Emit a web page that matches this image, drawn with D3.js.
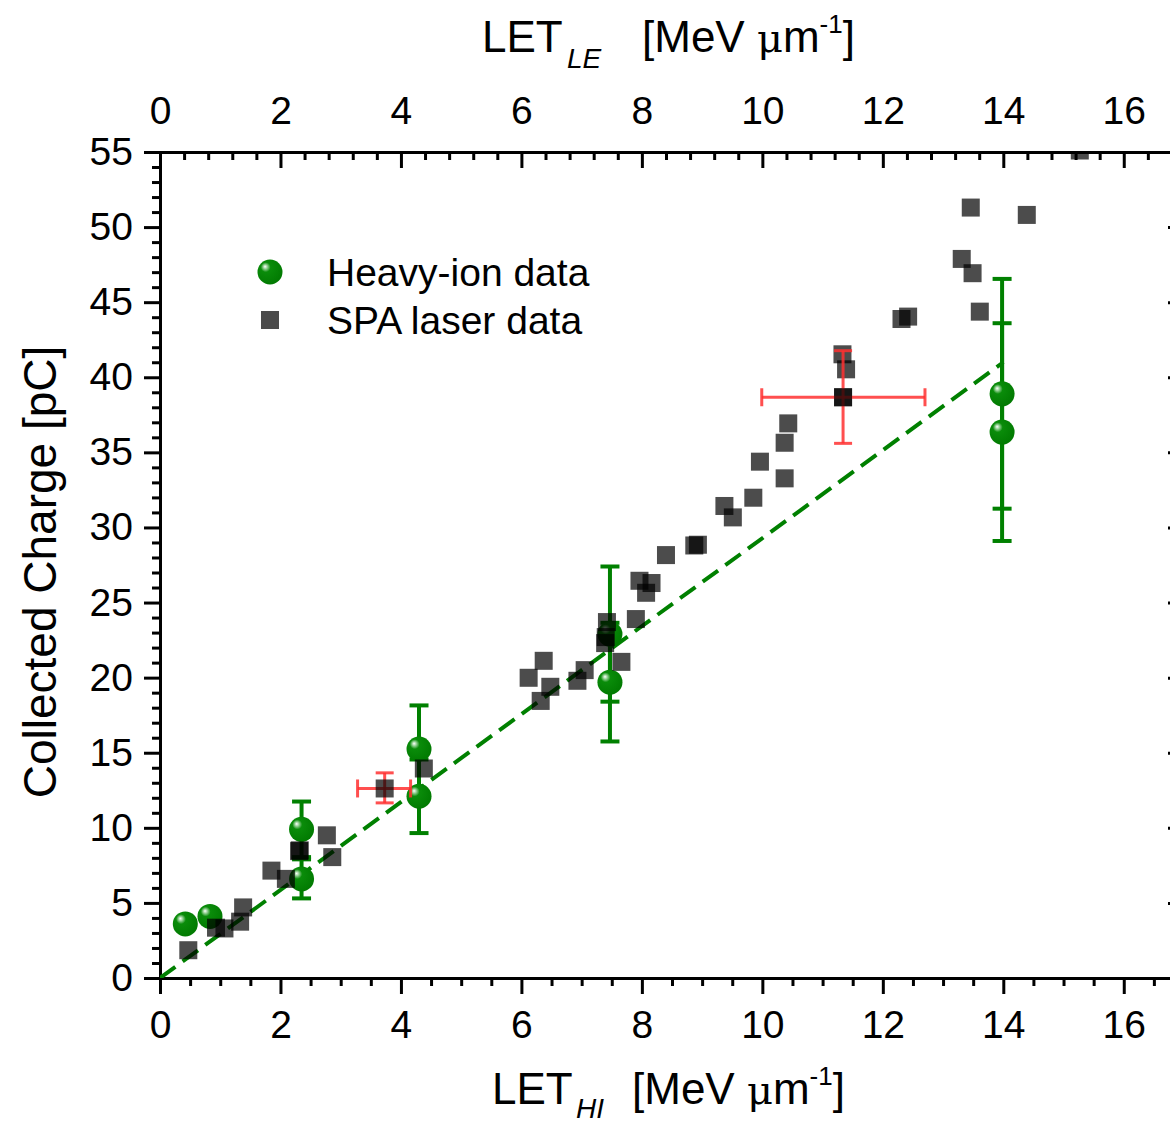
<!DOCTYPE html>
<html>
<head>
<meta charset="utf-8">
<script src="https://cdn.jsdelivr.net/npm/d3@7"></script>
<style>
  body { margin: 0; background: #fff; }
  svg { display: block; }
  text { font-family: "Liberation Sans", Arial, sans-serif; fill: #000; }
</style>
</head>
<body>
<svg id="chart" width="1170" height="1126"></svg>
<script>
// ---- tick labels ----
const xTickValues = [0, 2, 4, 6, 8, 10, 12, 14, 16];
const yTickValues = [0, 5, 10, 15, 20, 25, 30, 35, 40, 45, 50, 55];

// ---- heavy-ion data (LET_HI, collected charge, ± error) ----
const ionLet    = [0.42, 0.83, 2.35, 2.35, 4.30, 4.30, 7.47, 7.47, 13.98, 13.98];
const ionCharge = [3.6,  4.1,  9.9,  6.6,  15.25, 12.1, 22.9, 19.7, 38.9, 36.35];
const ionErr    = [0,    0,    1.85, 1.3,  2.9,  2.45, 4.5,  3.95, 7.65, 7.25];

// ---- SPA laser data ----
const laserLet = [0.47, 0.93, 1.07, 1.33, 1.38, 1.85, 2.09, 2.31, 2.32, 2.77, 2.86,
                  4.38, 6.12, 6.37, 6.48, 6.32, 6.93, 7.05, 7.42, 7.40, 7.39, 7.66,
                  7.90, 7.96, 8.16, 8.07, 8.40, 8.87, 8.93, 9.37, 9.51, 9.85, 9.96,
                  10.37, 10.37, 10.43, 11.34, 11.33, 11.39, 12.31, 12.42, 13.31,
                  13.46, 13.49, 13.61, 14.39, 15.27];
const laserCharge = [1.85, 3.35, 3.3, 3.75, 4.7, 7.15, 6.6, 8.45, 8.5, 9.5, 8.05,
                     13.95, 19.99, 21.12, 19.39, 18.45, 19.79, 20.5, 23.7, 22.7, 22.3, 21.05,
                     23.9, 26.45, 26.3, 25.65, 28.16, 28.8, 28.85, 31.43, 30.67, 31.98, 34.38,
                     33.27, 35.64, 36.93, 38.67, 41.53, 40.53, 43.88, 44.04, 47.88,
                     51.3, 46.93, 44.37, 50.81, 55.1];

// ---- laser points with LET / charge uncertainty ----
const barLet      = [3.73, 11.34];
const barCharge   = [12.62, 38.67];
const barLetLo    = [3.28, 9.99];
const barLetHi    = [4.16, 12.70];
const barChargeLo = [11.66, 35.6];
const barChargeHi = [13.66, 41.77];

// ---- linear trend (dashed) ----
const fitLet    = [0, 14];
const fitCharge = [0, 41.0];

const svg = d3.select("#chart");
const x = d3.scaleLinear().domain([0, 17]).range([160, 1184]);
const y = d3.scaleLinear().domain([0, 55]).range([978, 152]);

const GREEN = "#008000";

// defs: shaded sphere marker and plot clip
const defs = svg.append("defs");
const grad = defs.append("radialGradient").attr("id", "ball")
  .attr("cx", "40%").attr("cy", "38%").attr("r", "70%")
  .attr("fx", "30%").attr("fy", "28%");
grad.append("stop").attr("offset", "0%").attr("stop-color", "#ffffff");
grad.append("stop").attr("offset", "10%").attr("stop-color", "#a8daa8");
grad.append("stop").attr("offset", "28%").attr("stop-color", "#0a8c0a");
grad.append("stop").attr("offset", "100%").attr("stop-color", "#007800");
defs.append("clipPath").attr("id", "plotClip").append("rect")
  .attr("x", x(0)).attr("y", y(55)).attr("width", x(17) - x(0)).attr("height", y(0) - y(55));

// ---- axes ----
function styleAxis(g, fontSize) {
  g.select(".domain").attr("stroke-width", 3).attr("stroke-linecap", "square");
  g.selectAll(".tick line").attr("stroke-width", 3);
  g.selectAll(".tick text").attr("font-size", fontSize)
    .attr("font-family", "'Liberation Sans', Arial, sans-serif");
}
const range = (a, b, s) => d3.range(a, b + 1e-9, s).map(v => +v.toFixed(3));
const notMajor = (majors) => (v) => !majors.some(m => Math.abs(m - v) < 1e-6);

// bottom
svg.append("g").attr("transform", `translate(0,${y(0)})`)
  .call(d3.axisBottom(x).tickValues(range(0, 17, 0.5).filter(notMajor(xTickValues)))
    .tickSize(8).tickSizeOuter(0).tickFormat(""))
  .call(g => { styleAxis(g, 39); g.select(".domain").remove(); });
svg.append("g").attr("transform", `translate(0,${y(0)})`)
  .call(d3.axisBottom(x).tickValues(xTickValues).tickSize(16).tickPadding(16).tickSizeOuter(0))
  .call(g => styleAxis(g, 39));

// top
svg.append("g").attr("transform", `translate(0,${y(55)})`)
  .call(d3.axisTop(x).tickValues(range(0, 17, 0.4).filter(notMajor(xTickValues)))
    .tickSize(-8).tickSizeOuter(0).tickFormat(""))
  .call(g => { styleAxis(g, 39); g.select(".domain").remove(); });
svg.append("g").attr("transform", `translate(0,${y(55)})`)
  .call(d3.axisTop(x).tickValues(xTickValues).tickSize(-16).tickPadding(28).tickSizeOuter(0))
  .call(g => styleAxis(g, 39));

// left
svg.append("g").attr("transform", `translate(${x(0)},0)`)
  .call(d3.axisLeft(y).tickValues(range(0, 55, 1).filter(notMajor(yTickValues)))
    .tickSize(8).tickSizeOuter(0).tickFormat(""))
  .call(g => { styleAxis(g, 39); g.select(".domain").remove(); });
svg.append("g").attr("transform", `translate(${x(0)},0)`)
  .call(d3.axisLeft(y).tickValues(yTickValues).tickSize(16).tickPadding(11).tickSizeOuter(0))
  .call(g => styleAxis(g, 39));

// right
svg.append("g").attr("transform", `translate(${x(17)},0)`)
  .call(d3.axisRight(y).tickValues(range(0, 55, 1).filter(notMajor(yTickValues)))
    .tickSize(-8).tickSizeOuter(0).tickFormat(""))
  .call(g => { styleAxis(g, 39); g.select(".domain").remove(); });
svg.append("g").attr("transform", `translate(${x(17)},0)`)
  .call(d3.axisRight(y).tickValues(yTickValues).tickSize(-16).tickSizeOuter(0).tickFormat(""))
  .call(g => styleAxis(g, 39));

// ---- plot layer ----
const plot = svg.append("g").attr("clip-path", "url(#plotClip)");

// dashed linear trend
plot.append("path")
  .datum(fitLet.map((v, i) => [v, fitCharge[i]]))
  .attr("d", d3.line().x(d => x(d[0])).y(d => y(d[1])))
  .attr("fill", "none").attr("stroke", GREEN).attr("stroke-width", 4)
  .attr("stroke-dasharray", "19,9");

// heavy-ion error bars
const ions = ionLet.map((v, i) => ({ x: v, y: ionCharge[i], e: ionErr[i] }));
const ionBars = plot.append("g").attr("stroke", GREEN).attr("stroke-width", 4);
ions.filter(d => d.e > 0).forEach(d => {
  ionBars.append("line").attr("x1", x(d.x)).attr("x2", x(d.x))
    .attr("y1", y(d.y - d.e)).attr("y2", y(d.y + d.e));
  [d.y - d.e, d.y + d.e].forEach(v => {
    ionBars.append("line").attr("x1", x(d.x) - 9.5).attr("x2", x(d.x) + 9.5)
      .attr("y1", y(v)).attr("y2", y(v));
  });
});

// heavy-ion markers
plot.append("g").selectAll("circle").data(ions).join("circle")
  .attr("cx", d => x(d.x)).attr("cy", d => y(d.y)).attr("r", 12.5)
  .attr("fill", "url(#ball)");

// SPA laser markers
const SQ = 18;
const laser = laserLet.map((v, i) => ({ x: v, y: laserCharge[i] }));
plot.append("g").selectAll("rect").data(laser).join("rect")
  .attr("x", d => x(d.x) - SQ / 2).attr("y", d => y(d.y) - SQ / 2)
  .attr("width", SQ).attr("height", SQ)
  .attr("fill", "#000").attr("fill-opacity", 0.7);

// laser uncertainty bars
const bars = barLet.map((v, i) => ({
  x: v, y: barCharge[i], x0: barLetLo[i], x1: barLetHi[i], y0: barChargeLo[i], y1: barChargeHi[i]
}));
const redBars = plot.append("g").attr("stroke", "#ff3030").attr("stroke-opacity", 0.85)
  .attr("stroke-width", 3);
bars.forEach(d => {
  redBars.append("line").attr("x1", x(d.x0)).attr("x2", x(d.x1)).attr("y1", y(d.y)).attr("y2", y(d.y));
  redBars.append("line").attr("x1", x(d.x)).attr("x2", x(d.x)).attr("y1", y(d.y0)).attr("y2", y(d.y1));
  [d.x0, d.x1].forEach(v => redBars.append("line").attr("x1", x(v)).attr("x2", x(v))
    .attr("y1", y(d.y) - 9).attr("y2", y(d.y) + 9));
  [d.y0, d.y1].forEach(v => redBars.append("line").attr("y1", y(v)).attr("y2", y(v))
    .attr("x1", x(d.x) - 9).attr("x2", x(d.x) + 9));
});
plot.append("g").selectAll("rect").data(bars).join("rect")
  .attr("x", d => x(d.x) - SQ / 2).attr("y", d => y(d.y) - SQ / 2)
  .attr("width", SQ).attr("height", SQ)
  .attr("fill", "#000").attr("fill-opacity", 0.7);

// ---- legend ----
const legend = svg.append("g");
legend.append("circle").attr("cx", 270).attr("cy", 272).attr("r", 12.5).attr("fill", "url(#ball)");
legend.append("text").attr("x", 327).attr("y", 286).attr("font-size", 39).text("Heavy-ion data");
legend.append("rect").attr("x", 270 - SQ / 2).attr("y", 320 - SQ / 2).attr("width", SQ).attr("height", SQ)
  .attr("fill", "#000").attr("fill-opacity", 0.7);
legend.append("text").attr("x", 327).attr("y", 334).attr("font-size", 39).text("SPA laser data");

// ---- axis titles ----
function letTitle(x0, baseY, sub, subX, unitX, subDrop) {
  const t = svg.append("text").attr("x", x0).attr("y", baseY).attr("font-size", 44);
  t.append("tspan").text("LET");
  t.append("tspan").attr("x", subX).attr("dy", subDrop).attr("font-size", 28)
    .attr("font-style", "italic").text(sub);
  t.append("tspan").attr("x", unitX).attr("dy", -subDrop).text("[MeV ");
  t.append("tspan").attr("font-family", "'DejaVu Serif', 'Liberation Serif', serif")
    .attr("font-size", 40).text("μ");
  t.append("tspan").text("m");
  t.append("tspan").attr("dy", -19).attr("font-size", 26).text("-1");
  t.append("tspan").attr("dy", 19).text("]");
}
letTitle(492, 1104, "HI", 576, 632, 14);
letTitle(482, 52, "LE", 567, 642, 16);

svg.append("text")
  .attr("transform", "translate(56,572) rotate(-90)")
  .attr("text-anchor", "middle").attr("font-size", 46)
  .text("Collected Charge [pC]");
</script>
</body>
</html>
